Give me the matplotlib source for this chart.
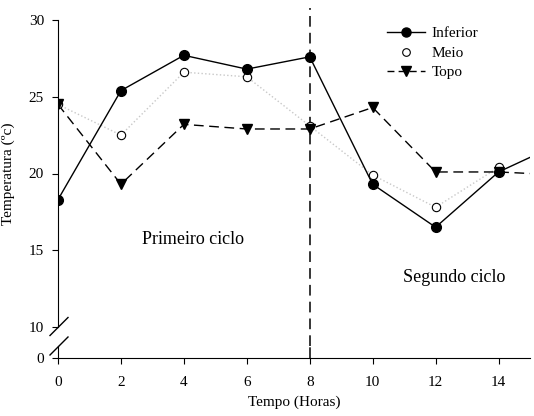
import matplotlib
matplotlib.use("Agg")
import matplotlib.pyplot as plt
import numpy as np
from matplotlib.lines import Line2D

plt.rcParams['font.family'] = ['Liberation Serif', 'DejaVu Serif']

# Dados (a ultima hora fica fora do eixo, so da a direccao da linha)
horas = [0, 2, 4, 6, 8, 10, 12, 14, 16]
inferior = [18.3, 25.4, 27.7, 26.8, 27.6, 19.3, 16.5, 20.1, 22.0]
meio = [24.5, 22.5, 26.6, 26.3, 23.1, 19.9, 17.8, 20.4, np.nan]
topo = [24.5, 19.3, 23.2, 22.9, 22.9, 24.3, 20.1, 20.1, 19.9]
xticks = [0, 2, 4, 6, 8, 10, 12, 14]
yticks_top = [10, 15, 20, 25, 30]

W, H = 534, 416
fig = plt.figure(figsize=(W / 100, H / 100), dpi=100)

left, right = 58, 530
ax = fig.add_axes([left / W, 1 - 327 / H, (right - left) / W, (327 - 20) / H])
axb = fig.add_axes([left / W, 1 - 358 / H, (right - left) / W, (358 - 346) / H])

ax.plot(horas, meio, color='#c8c8c8', lw=1, ls=':', zorder=2)
ax.plot(horas, inferior, color='black', lw=1, zorder=3)
ax.plot(horas, topo, color='black', lw=1, ls=(0, (7, 4)), zorder=3)
ax.plot(horas, meio, ls='none', marker='o', ms=6, mfc='white', mec='black', mew=0.8, zorder=4)
ax.plot(horas, inferior, ls='none', marker='o', ms=7, color='black', zorder=5)
ax.plot(horas, topo, ls='none', marker='v', ms=7, color='black', zorder=5)

for a in (ax, axb):
    a.set_xlim(0, 15)
    for s in ('top', 'right'):
        a.spines[s].set_visible(False)
    a.tick_params(direction='out', length=4, width=0.8, labelsize=11, pad=6)
    a.patch.set_alpha(0)

ax.set_ylim(10, 30)
ax.set_yticks(yticks_top)
ax.spines['bottom'].set_visible(False)
ax.set_xticks([])
ax.set_ylabel('Temperatura (ºc)', fontsize=11, labelpad=10)

axb.set_ylim(0, 1)
axb.set_yticks([0])
axb.set_xticks(xticks)
axb.tick_params(axis='x', pad=9)
axb.set_xlabel('Tempo (Horas)', fontsize=11, labelpad=5)

# linha vertical que separa os ciclos
dash = (0, (7, 4))
ax.axvline(8, ymin=-(346 - 327) / 307, ymax=1 + 12 / 307, color='black', lw=1.1,
           ls=dash, clip_on=False, zorder=1)
axb.axvline(8, color='black', lw=1.1, ls=dash, zorder=1)

# quebras do eixo y
for cy in (326.5, 346):
    fig.add_artist(Line2D([50 / W, 68 / W], [1 - (cy + 9) / H, 1 - (cy - 9) / H],
                          color='black', lw=1))

ax.text(4.3, 15.7, 'Primeiro ciclo', fontsize=13, ha='center', va='center')
ax.text(12.6, 13.2, 'Segundo ciclo', fontsize=13, ha='center', va='center')

handles = [
    Line2D([], [], color='black', lw=1, marker='o', ms=6.5),
    Line2D([], [], ls='none', marker='o', ms=5.5, mfc='white', mec='black', mew=0.8),
    Line2D([], [], color='black', lw=1, ls=(0, (5, 3)), marker='v', ms=6.5),
]
ax.legend(handles, ['Inferior', 'Meio', 'Topo'], loc='upper right',
          bbox_to_anchor=(0.92, 1.023), frameon=False, fontsize=11,
          handlelength=2.5, labelspacing=0.38, handletextpad=0.45)

fig.savefig('out.png', dpi=100)
